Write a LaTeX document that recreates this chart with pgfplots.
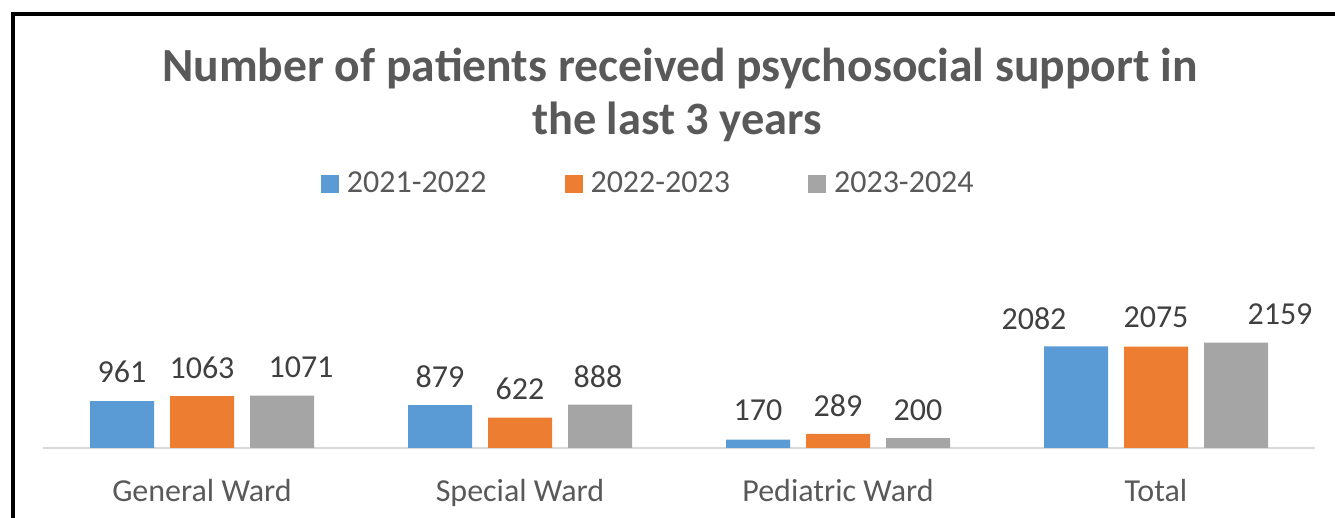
\documentclass[border=0pt]{standalone}
\usepackage{fontspec}
\setmainfont{Carlito}
\usepackage{pgfplots}
\pgfplotsset{compat=1.18}
\usepackage{pgfplotstable}
\definecolor{cBlue}{HTML}{5B9BD5}
\definecolor{cOrange}{HTML}{ED7D31}
\definecolor{cGray}{HTML}{A5A5A5}
\definecolor{cTitle}{HTML}{595959}
\definecolor{cData}{HTML}{404040}
\definecolor{cAxis}{HTML}{D9D9D9}

% x = category (General, Special, Pediatric, Total); dx/dy = label offsets in pt
\pgfplotstableread{
x y dx dy
0 961 0 9.5
1 879 0 9
2 170 0 9.5
3 2082 -21 8.5
}\tblA
\pgfplotstableread{
x y dx dy
0 1063 0 9
1 622 0 9
2 289 0 8.5
3 2075 0 9.5
}\tblB
\pgfplotstableread{
x y dx dy
0 1071 9.5 9
1 888 -1 8.5
2 200 0 9
3 2159 22 9
}\tblC

\pgfplotsset{
  lbl/.style={
    point meta=explicit symbolic,
    nodes near coords,
    visualization depends on={\thisrow{dx} \as \dx},
    visualization depends on={\thisrow{dy} \as \dy},
    every node near coord/.append style={anchor=base, inner sep=0pt,
      xshift=\dx*1pt, yshift=\dy*1pt,
      font=\fontsize{16}{19}\selectfont, text=cData},
  },
}

\begin{document}
\begin{tikzpicture}
\useasboundingbox (0,0) rectangle (667.5pt,259pt);
\draw[line width=2pt] (6.5pt,0pt) -- (6.5pt,252pt) -- (667.5pt,252pt);
\begin{axis}[
  at={(21.5pt,35pt)}, anchor=south west,
  scale only axis, width=636pt, height=61pt,
  xmin=-0.5, xmax=3.5, ymin=0, ymax=2500,
  ybar=8pt, bar width=32pt,
  axis y line=none, ytick=\empty,
  axis x line*=bottom,
  x axis line style={draw=cAxis, line width=0.75pt},
  xtick={0,1,2,3},
  xticklabels={General Ward, Special Ward, Pediatric Ward, Total},
  major tick length=0pt,
  xticklabel style={anchor=base, yshift=-27pt, font=\fontsize{16}{19}\selectfont, text=cTitle},
  clip=false,
  legend columns=3,
  legend image code/.code={\fill[#1] (0pt,0pt) rectangle (9pt,9pt);},
  legend style={at={(axis description cs:0.21855,2.295)}, anchor=north west,
    draw=none, fill=none, inner sep=0pt, outer sep=0pt,
    font=\fontsize{16}{19}\selectfont, text=cTitle,
    cells={anchor=base west, inner sep=0pt},
    /tikz/every odd column/.append style={column sep=2pt},
    /tikz/every even column/.append style={column sep=37pt}},
]
\addplot[fill=cBlue, draw=none, lbl] table[x=x, y=y, meta=y]{\tblA};
\addlegendentry{2021-2022}
\addplot[fill=cOrange, draw=none, lbl] table[x=x, y=y, meta=y]{\tblB};
\addlegendentry{2022-2023}
\addplot[fill=cGray, draw=none, lbl] table[x=x, y=y, meta=y]{\tblC};
\addlegendentry{2023-2024}
\end{axis}
\node[anchor=base, font=\fontsize{23.8}{28}\selectfont\bfseries, text=cTitle]
  at (340pt,218pt) {Number of patients received psychosocial support in};
\node[anchor=base, font=\fontsize{23.2}{28}\selectfont\bfseries, text=cTitle]
  at (338.5pt,191.5pt) {the last 3 years};
\end{tikzpicture}
\end{document}
